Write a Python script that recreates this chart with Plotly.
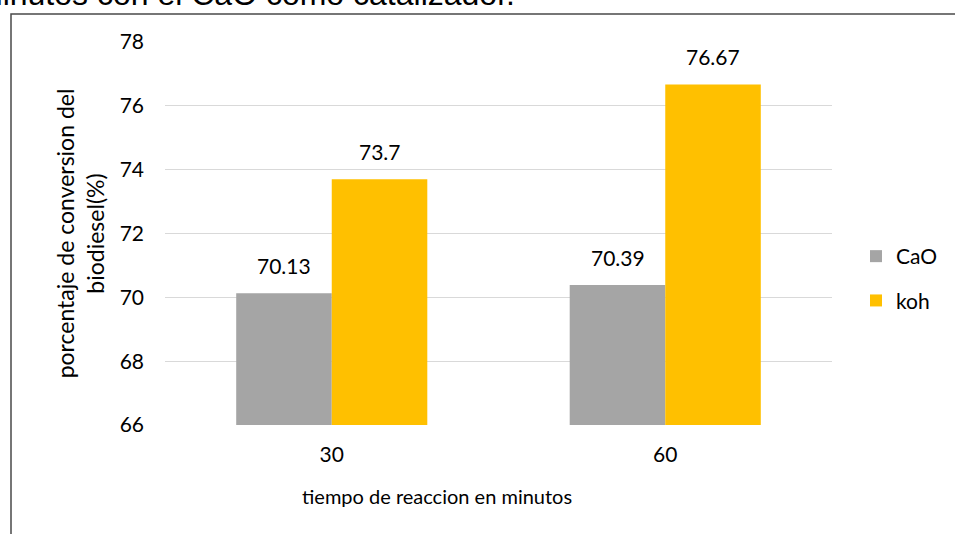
import plotly.graph_objects as go

# Reaction time categories (minutes) and biodiesel conversion (%) per catalyst
tiempos = ["30", "60"]
conversion_cao = [70.13, 70.39]
conversion_koh = [73.7, 76.67]
serie_nombres = ["CaO", "koh"]
serie_colores = ["#A5A5A5", "#FFC000"]

W, H = 955, 534
ML, MR, MT, MB = 165, 123, 42, 109
PW, PH = W - ML - MR, H - MT - MB

def px_x(p):
    return (p - ML) / PW

def px_y(p):
    return (H - MB - p) / PH

FONT = "Lato, Open Sans, sans-serif"
BAR_HALF = 47.75  # horizontal offset of each bar centre within its group

fig = go.Figure()
series = [conversion_cao, conversion_koh]
for nombre, valores, color in zip(serie_nombres, series, serie_colores):
    fig.add_trace(go.Bar(
        x=tiempos, y=valores, name=nombre, legendgroup=nombre,
        marker=dict(color=color, line=dict(width=0)),
    ))

# Value labels above each bar (x given as category index)
annotations = []
for i, valores in enumerate(series):
    for j, v in enumerate(valores):
        annotations.append(dict(
            x=j, y=v, xref="x", yref="y", text=f"{v:g}", showarrow=False,
            xanchor="center", yanchor="bottom", yshift=13,
            xshift=(-BAR_HALF if i == 0 else BAR_HALF),
            font=dict(family=FONT, size=21, color="#000000"),
        ))

# Horizontal axis title, centred on the chart frame
annotations.append(dict(
    x=px_x(437), y=px_y(496), xref="paper", yref="paper",
    text="tiempo de reaccion en minutos", showarrow=False,
    xanchor="center", yanchor="middle",
    font=dict(family=FONT, size=20, color="#000000"),
))

# Caption line from the surrounding page, partially cut at the top
annotations.append(dict(
    x=px_x(517), y=px_y(14), xref="paper", yref="paper",
    text="minutos con el CaO como catalizador.", showarrow=False,
    xanchor="right", yanchor="bottom",
    font=dict(family="Liberation Sans, Arial, sans-serif", size=32, color="#000000"),
))

fig.update_layout(
    width=W, height=H,
    margin=dict(l=ML, r=MR, t=MT, b=MB, pad=0),
    paper_bgcolor="white", plot_bgcolor="white",
    barmode="group", bargap=0.427, bargroupgap=0,
    font=dict(family=FONT, size=21, color="#000000"),
    showlegend=True,
    legend=dict(
        x=px_x(856), y=px_y(236), xanchor="left", yanchor="top",
        font=dict(family=FONT, size=21, color="#000000"),
        tracegroupgap=14, itemwidth=30, bgcolor="rgba(0,0,0,0)",
    ),
    xaxis=dict(
        type="category", range=[-0.5, 1.5], showgrid=False, showline=False, ticks="",
        ticklabelstandoff=15,
        tickfont=dict(family=FONT, size=21, color="#000000"),
    ),
    yaxis=dict(
        range=[66, 78], dtick=2, tick0=66, showgrid=True, gridcolor="#D9D9D9",
        gridwidth=1, zeroline=False, showline=False, ticks="",
        ticklabelstandoff=20,
        title=dict(text="porcentaje de conversion del<br>biodiesel(%)", standoff=8,
                   font=dict(family=FONT, size=23, color="#000000")),
        tickfont=dict(family=FONT, size=21, color="#000000"),
    ),
    annotations=annotations,
    shapes=[dict(
        type="rect", xref="paper", yref="paper",
        x0=px_x(11), y0=px_y(560), x1=px_x(990), y1=px_y(14),
        line=dict(color="#4a4a4a", width=1.5), fillcolor="rgba(0,0,0,0)", layer="below",
    )],
)

fig.write_html("out.html")
